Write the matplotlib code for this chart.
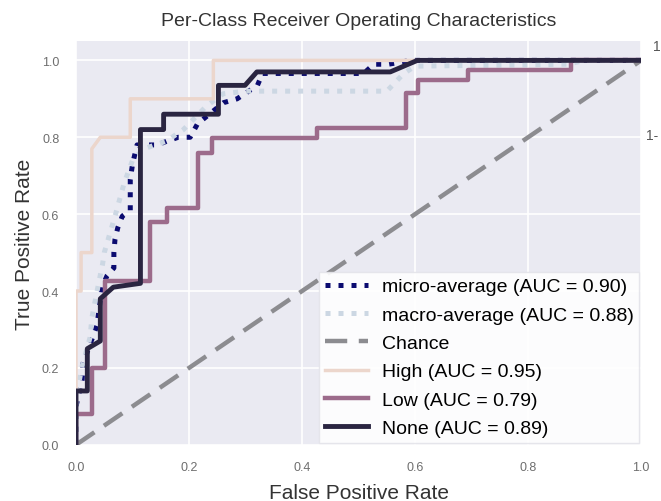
import matplotlib
matplotlib.use("Agg")
import matplotlib.pyplot as plt

plt.rcParams['font.family'] = ['Liberation Sans', 'DejaVu Sans']

# ROC curves (false positive rate, true positive rate) per class and averages
micro_fpr = [0.0, 0.0, 0.011, 0.012, 0.037, 0.046, 0.055, 0.067, 0.067, 0.069, 0.074,
             0.082, 0.096, 0.096, 0.100, 0.108, 0.144, 0.161, 0.181, 0.202, 0.215,
             0.261, 0.285, 0.321, 0.330, 0.509, 0.527, 0.553, 0.592, 1.0]
micro_tpr = [0.0, 0.10, 0.17, 0.21, 0.31, 0.41, 0.44, 0.46, 0.50, 0.535, 0.565,
             0.595, 0.61, 0.69, 0.73, 0.78, 0.78, 0.79, 0.80, 0.80, 0.835,
             0.89, 0.90, 0.935, 0.966, 0.966, 0.99, 0.99, 1.0, 1.0]

macro_fpr = [0.0, 0.0, 0.010, 0.025, 0.028, 0.040, 0.047, 0.050, 0.070, 0.085, 0.100,
             0.120, 0.160, 0.190, 0.230, 0.260, 0.300, 0.550, 0.580, 0.600, 0.870,
             0.900, 1.0]
macro_tpr = [0.0, 0.12, 0.20, 0.28, 0.33, 0.42, 0.47, 0.50, 0.60, 0.68, 0.74,
             0.77, 0.79, 0.82, 0.88, 0.913, 0.92, 0.92, 0.966, 0.985, 0.99,
             1.0, 1.0]

high_fpr = [0.0, 0.0, 0.009, 0.009, 0.028, 0.028, 0.043, 0.096, 0.096, 0.243, 0.243, 1.0]
high_tpr = [0.0, 0.40, 0.40, 0.50, 0.50, 0.77, 0.80, 0.80, 0.90, 0.90, 1.0, 1.0]

low_fpr = [0.0, 0.0, 0.028, 0.028, 0.051, 0.051, 0.131, 0.131, 0.161, 0.161, 0.215,
           0.215, 0.241, 0.241, 0.427, 0.427, 0.583, 0.583, 0.606, 0.606, 0.693,
           0.693, 0.876, 0.876, 1.0]
low_tpr = [0.0, 0.08, 0.08, 0.20, 0.20, 0.425, 0.425, 0.58, 0.58, 0.616, 0.616,
           0.76, 0.76, 0.797, 0.797, 0.825, 0.825, 0.914, 0.914, 0.948, 0.948,
           0.974, 0.974, 1.0, 1.0]

none_fpr = [0.0, 0.0, 0.020, 0.020, 0.043, 0.043, 0.066, 0.114, 0.114, 0.155, 0.155,
            0.252, 0.252, 0.299, 0.320, 0.556, 0.604, 1.0]
none_tpr = [0.0, 0.14, 0.14, 0.25, 0.27, 0.38, 0.41, 0.42, 0.82, 0.82, 0.86,
            0.86, 0.935, 0.935, 0.97, 0.97, 1.0, 1.0]

labels = ["micro-average", "macro-average", "High", "Low", "None"]
aucs = [0.90, 0.88, 0.95, 0.79, 0.89]

x_ticks = [0.0, 0.2, 0.4, 0.6, 0.8, 1.0]
y_ticks = [0.0, 0.2, 0.4, 0.6, 0.8, 1.0]

fig = plt.figure(figsize=(6.61, 5.02), dpi=100)
ax = fig.add_axes([0.115, 0.112, 0.855, 0.804])
ax.set_facecolor('#EAEAF2')
for s in ax.spines.values():
    s.set_visible(False)
ax.grid(True, color='white', linewidth=1.2)
ax.set_axisbelow(True)

ax.plot(micro_fpr, micro_tpr, linestyle=(0, (1, 1.6)), linewidth=3.6, color='#0B0B70',
        label=f"{labels[0]} (AUC = {aucs[0]:.2f})")
ax.plot(macro_fpr, macro_tpr, linestyle=(0, (1, 1.6)), linewidth=3.6, color='#CCD7E3',
        label=f"{labels[1]} (AUC = {aucs[1]:.2f})")
ax.plot([0, 1], [0, 1], linestyle=(0, (5, 2.6)), linewidth=3.2, color='#8C8C90',
        label="Chance")
ax.plot(high_fpr, high_tpr, linewidth=2.5, color='#ECD6CC',
        label=f"{labels[2]} (AUC = {aucs[2]:.2f})")
ax.plot(low_fpr, low_tpr, linewidth=3.2, color='#9C6B8B',
        label=f"{labels[3]} (AUC = {aucs[3]:.2f})")
ax.plot(none_fpr, none_tpr, linewidth=3.5, color='#2A2541',
        label=f"{labels[4]} (AUC = {aucs[4]:.2f})")

ax.set_xlim(0.0, 1.0)
ax.set_ylim(0.0, 1.05)
ax.set_xticks(x_ticks)
ax.set_yticks(y_ticks)
ax.set_xticklabels([f"{v:.1f}" for v in x_ticks])
ax.set_yticklabels([f"{v:.1f}" for v in y_ticks])
ax.tick_params(length=0, labelsize=9, labelcolor='#6E6E6E', pad=12)

ax.set_xlabel("False Positive Rate", fontsize=15, color='#333333', labelpad=7)
ax.set_ylabel("True Positive Rate", fontsize=15, color='#333333', labelpad=6)
ax.set_title("Per-Class Receiver Operating Characteristics", fontsize=14,
             color='#333333', pad=12)

leg = ax.legend(loc='lower right', fontsize=14, frameon=True, facecolor='white',
                edgecolor='#E4E4EA', framealpha=0.9, borderaxespad=0.1,
                borderpad=0.3, handlelength=2.2, handletextpad=0.7,
                labelspacing=0.55, fancybox=False)

fig.text(0.988, 0.898, "1", fontsize=10, color='#555555')
fig.text(0.978, 0.722, "1-", fontsize=10, color='#555555')

fig.savefig("out.png", dpi=100)
